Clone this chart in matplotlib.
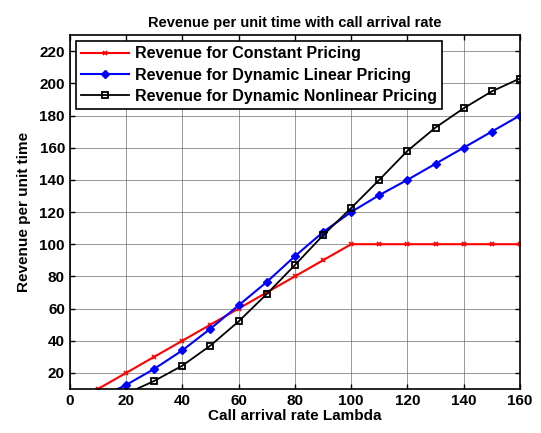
import matplotlib.pyplot as plt
import numpy as np

plt.rcParams['font.family'] = ['Liberation Sans', 'DejaVu Sans']
plt.rcParams['font.weight'] = 'bold'

# call arrival rate
lam_const = [10, 20, 30, 40, 50, 60, 70, 80, 90, 100, 110, 120, 130, 140, 150, 160]
rev_const = [10, 20, 30, 40, 50, 60, 70, 80, 90, 100, 100, 100, 100, 100, 100, 100]

lam_dyn = [10, 20, 30, 40, 50, 60, 70, 80, 90, 100, 110, 120, 130, 140, 150, 160]
rev_linear = [4, 12.5, 22.5, 34, 47.5, 62, 76.5, 92.5, 107.5, 120, 130.5, 140, 150, 160, 170, 180]
rev_nonlinear = [1, 7, 15, 24.5, 37, 52, 69, 87, 105.5, 122.5, 140, 158, 172.5, 184.5, 195, 203]

fig = plt.figure(figsize=(5.41, 4.33), dpi=100)
ax = fig.add_axes([0.129, 0.1016, 0.832, 0.8174])

ax.plot(lam_const, rev_const, color='red', lw=1.5, marker='x', ms=3.5, mew=1.2,
        label='Revenue for Constant Pricing')
ax.plot(lam_dyn, rev_linear, color='blue', lw=1.5, marker='D', ms=4,
        label='Revenue for Dynamic Linear Pricing')
ax.plot(lam_dyn, rev_nonlinear, color='black', lw=1.3, marker='s', ms=5,
        mfc='none', mew=1.3, label='Revenue for Dynamic Nonlinear Pricing')

ax.set_xlim(0, 160)
ax.set_ylim(10, 230)
ax.set_xticks(np.arange(0, 161, 20))
ax.set_yticks(np.arange(20, 221, 20))
ax.grid(True, color='#555555', lw=0.6, alpha=0.7)
ax.tick_params(direction='in', top=True, right=True, labelsize=11, width=1)
for lbl in ax.get_xticklabels() + ax.get_yticklabels():
    lbl.set_fontweight('bold')
for s in ax.spines.values():
    s.set_linewidth(1.2)

ax.set_title('Revenue per unit time with call arrival rate', fontsize=10.5, fontweight='bold')
ax.set_xlabel('Call arrival rate Lambda', fontsize=11, fontweight='bold', labelpad=1)
ax.set_ylabel('Revenue per unit time', fontsize=11, fontweight='bold', labelpad=6)

leg = ax.legend(loc='upper left', fontsize=11.5, fancybox=False, edgecolor='black',
                framealpha=1, handlelength=3, borderaxespad=0.4, labelspacing=0.4,
                borderpad=0.3, handletextpad=0.4)
leg.get_frame().set_linewidth(1.2)

fig.savefig('out.png', dpi=100)
